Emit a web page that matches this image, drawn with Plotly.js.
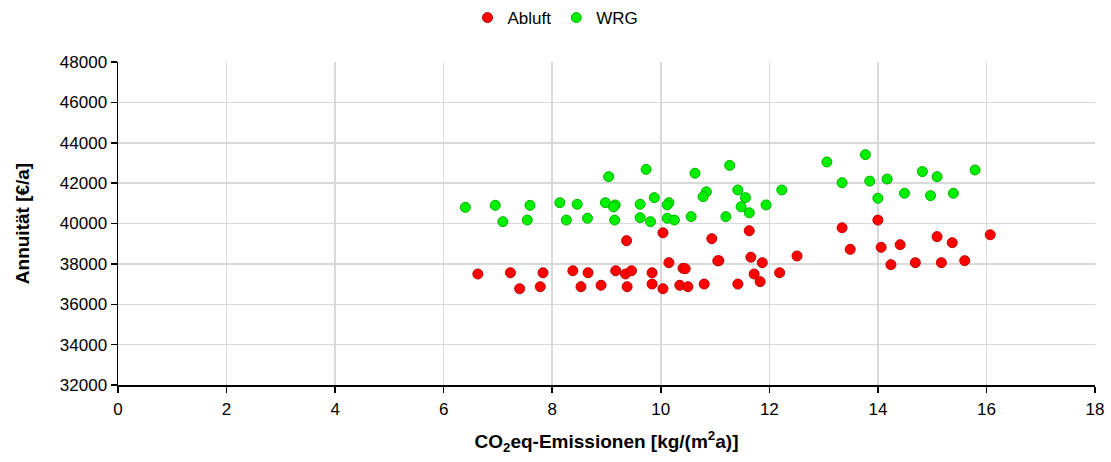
<!DOCTYPE html>
<html>
<head>
<meta charset="utf-8">
<script src="https://cdn.plot.ly/plotly-3.0.1.min.js"></script>
<style>html,body{margin:0;padding:0;background:#fff;}#chart{width:1111px;height:462px;}</style>
</head>
<body>
<div id="chart"></div>
<script>
const seriesNames = ["Abluft", "WRG"];

const abluftX = [6.63, 7.23, 7.83, 7.40, 7.78, 8.38, 8.66, 8.53, 8.90, 9.17, 9.35, 9.37, 9.38, 9.46, 9.84,
  10.04, 10.94, 11.63, 13.34, 13.49, 10.15, 10.41, 10.45, 11.07, 11.05, 11.66, 11.87, 12.51, 12.19, 11.72,
  9.84, 10.04, 10.35, 10.50, 10.80, 11.42, 11.83, 14.00, 14.06, 14.41, 15.09, 15.37, 16.07, 14.24, 14.69,
  15.17, 15.60];
const abluftY = [37500, 37560, 37560, 36770, 36870, 37660, 37560, 36870, 36940, 37660, 37500, 39150, 36870, 37660, 37560,
  39540, 39250, 39640, 39790, 38720, 38060, 37780, 37760, 38160, 38150, 38330, 38060, 38390, 37560, 37500,
  37000, 36770, 36940, 36870, 37000, 37000, 37120, 40170, 38820, 38950, 39350, 39050, 39440, 37960, 38060,
  38060, 38160];

const wrgX = [6.40, 6.95, 7.09, 7.59, 7.54, 8.14, 8.46, 8.26, 8.65, 8.98, 9.16, 9.13, 9.15, 9.04, 9.73,
  10.63, 11.27, 13.06, 13.34, 9.62, 9.88, 9.62, 9.81, 10.15, 10.12, 10.12, 10.25, 10.56, 10.84, 10.78,
  11.42, 11.56, 11.48, 11.63, 11.20, 11.94, 12.23, 13.77, 13.85, 14.17, 14.00, 14.49, 14.82, 15.09, 14.97,
  15.39, 15.79];
const wrgY = [40800, 40900, 40090, 40900, 40170, 41030, 40950, 40170, 40260, 41030, 40920, 40820, 40170, 42320, 42680,
  42490, 42880, 43050, 42020, 40950, 41280, 40290, 40090, 41030, 40920, 40260, 40170, 40340, 41570, 41330,
  41660, 41280, 40830, 40530, 40340, 40920, 41660, 43410, 42100, 42200, 41250, 41500, 42570, 42320, 41380,
  41500, 42650];

const xTicks = [0, 2, 4, 6, 8, 10, 12, 14, 16, 18];
const yTicks = [32000, 34000, 36000, 38000, 40000, 42000, 44000, 46000, 48000];

const FONT = "Liberation Sans, Arial, sans-serif";

const traces = [
  {x: abluftX, y: abluftY, name: seriesNames[0], type: "scatter", mode: "markers",
   marker: {color: "#ff0000", size: 10, line: {color: "#c00000", width: 1}}},
  {x: wrgX, y: wrgY, name: seriesNames[1], type: "scatter", mode: "markers",
   marker: {color: "#00f000", size: 10, line: {color: "#00b400", width: 1}}}
];

const layout = {
  width: 1111, height: 462,
  margin: {l: 118, r: 16, t: 62, b: 77},
  paper_bgcolor: "#ffffff", plot_bgcolor: "#ffffff",
  font: {family: FONT, size: 16, color: "#000"},
  showlegend: true,
  legend: {orientation: "h", xref: "container", yref: "container", x: 0.5, xanchor: "center",
           y: 0.961, yanchor: "middle", font: {family: FONT, size: 17, color: "#000"},
           itemwidth: 30, tracegroupgap: 0},
  xaxis: {
    range: [0, 18], tickvals: xTicks, ticktext: xTicks.map(String),
    showgrid: true, gridcolor: "#d9d9d9", gridwidth: 1.5,
    showline: true, linecolor: "#000", linewidth: 1.5,
    ticks: "outside", ticklen: 6, tickcolor: "#000", tickwidth: 1.5,
    ticklabelstandoff: 2,
    zeroline: false, tickfont: {family: FONT, size: 17},
    title: {text: "<b>CO<sub>2</sub>eq-Emissionen [kg/(m<sup>2</sup>a)]</b>", font: {family: FONT, size: 19}, standoff: 17}
  },
  yaxis: {
    range: [32000, 48000], tickvals: yTicks, ticktext: yTicks.map(String),
    showgrid: true, gridcolor: "#d9d9d9", gridwidth: 1.5,
    showline: true, linecolor: "#000", linewidth: 1.5,
    ticks: "outside", ticklen: 6, tickcolor: "#000", tickwidth: 1.5,
    zeroline: false, tickfont: {family: FONT, size: 17},
    title: {text: "<b>Annuität [€/a]</b>", font: {family: FONT, size: 19}, standoff: 25}
  }
};

Plotly.newPlot("chart", traces, layout, {staticPlot: true, displayModeBar: false});
</script>
</body>
</html>
